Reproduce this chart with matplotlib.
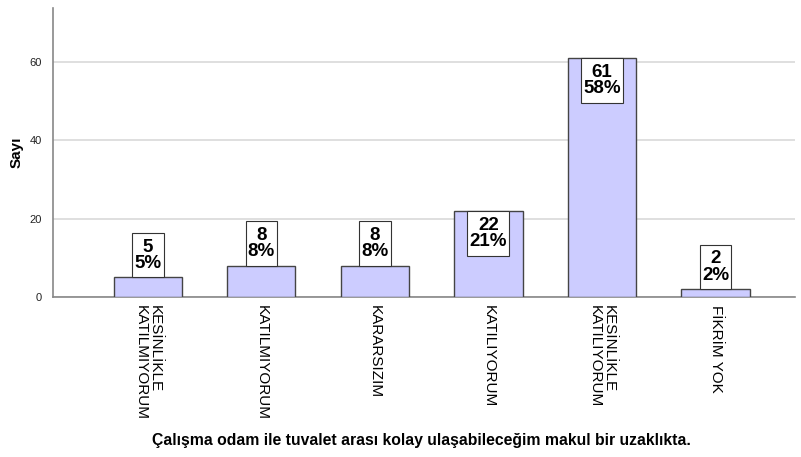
import matplotlib
matplotlib.use("Agg")
import matplotlib.pyplot as plt
from matplotlib.path import Path

categories = ["KESİNLİKLE\nKATILMIYORUM", "KATILMIYORUM", "KARARSIZIM",
              "KATILIYORUM", "KESİNLİKLE\nKATILIYORUM", "FİKRİM YOK"]
counts = [5, 8, 8, 22, 61, 2]
percents = [5, 8, 8, 21, 58, 2]
yticks = [0, 20, 40, 60]

plt.rcParams['font.family'] = ['Liberation Sans', 'DejaVu Sans']


def box(x0, y0, width, height, mutation_size):
    px = 0.12 * mutation_size
    py = 0.30 * mutation_size
    x0 -= px
    y0 -= py
    x1 = x0 + width + 2 * px
    y1 = y0 + height + 2 * py
    return Path([(x0, y0), (x1, y0), (x1, y1), (x0, y1), (x0, y0)], closed=True)


fig = plt.figure(figsize=(8.01, 4.57), dpi=100)
ax = fig.add_axes([53/801, 1 - 297/457, (795-53)/801, (297-8)/457])

x = list(range(len(categories)))
ax.bar(x, counts, width=0.6, color='#ccccff', edgecolor='#444444', linewidth=1.0, zorder=3)

for xi, c, p in zip(x, counts, percents):
    inside = c > 15
    ax.annotate(f"{c}\n{p}%", xy=(xi, c), xytext=(0, -4.3 if inside else 4.0),
                textcoords='offset points', ha='center',
                va='top' if inside else 'bottom',
                fontsize=13.5, fontweight='bold', linespacing=0.95,
                bbox=dict(boxstyle=box, fc='white', ec='#333333', lw=0.8),
                zorder=4)

ax.set_xlim(-0.836, 5.7)
ax.set_ylim(0, 73.8)
ax.set_yticks(yticks)
ax.set_xticks(x)
ax.set_xticklabels(categories, rotation=-90, va='top', ha='center',
                   multialignment='left', fontsize=11, linespacing=1.0)
ax.tick_params(axis='x', length=0, pad=6)
ax.tick_params(axis='y', length=0, labelsize=8, colors='#222222', pad=8)
ax.grid(axis='y', color='#d9d9d9', linewidth=1.2, zorder=0)
for s in ['top', 'right']:
    ax.spines[s].set_visible(False)
for s in ['left', 'bottom']:
    ax.spines[s].set_color('#888888')
    ax.spines[s].set_linewidth(1.2)

ax.set_ylabel("Sayı", fontsize=11, fontweight='bold')
ax.yaxis.set_label_coords(-29/742, 0.5)
fig.text(421/801, 1 - 441/457, "Çalışma odam ile tuvalet arası kolay ulaşabileceğim makul bir uzaklıkta.",
         ha='center', va='center', fontsize=11.3, fontweight='bold')

fig.savefig("out.png", dpi=100)
